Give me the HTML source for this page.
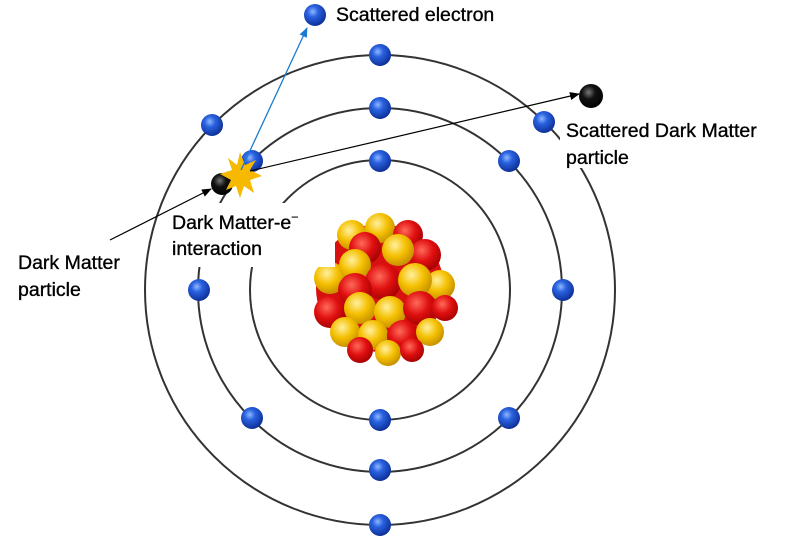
<!DOCTYPE html><html><head><style>body{margin:0;background:#fff}svg{display:block}text{font-family:"Liberation Sans",sans-serif;font-size:19.5px;fill:#000;stroke:#000;stroke-width:0.35}</style></head><body>
<svg width="800" height="547" viewBox="0 0 800 547">
<defs>
<radialGradient id="e" cx="0.4" cy="0.35" r="0.7"><stop offset="0" stop-color="#8fb8ff"/><stop offset="0.35" stop-color="#2a62e0"/><stop offset="1" stop-color="#0a2a90"/></radialGradient>
<radialGradient id="k" cx="0.4" cy="0.35" r="0.7"><stop offset="0" stop-color="#777"/><stop offset="0.4" stop-color="#111"/><stop offset="1" stop-color="#000"/></radialGradient>
<radialGradient id="r" cx="0.4" cy="0.35" r="0.7"><stop offset="0" stop-color="#ff6a5a"/><stop offset="0.5" stop-color="#e01010"/><stop offset="1" stop-color="#a00000"/></radialGradient>
<radialGradient id="y" cx="0.4" cy="0.35" r="0.7"><stop offset="0" stop-color="#fff0a0"/><stop offset="0.5" stop-color="#f5c000"/><stop offset="1" stop-color="#c08a00"/></radialGradient>
<marker id="ab" markerWidth="10" markerHeight="8" refX="9" refY="4" orient="auto" markerUnits="userSpaceOnUse"><path d="M0,0L10,4L0,8z" fill="#1a7ad0"/></marker>
<marker id="ak" markerWidth="10" markerHeight="8" refX="9" refY="4" orient="auto" markerUnits="userSpaceOnUse"><path d="M0,0L10,4L0,8z" fill="#000"/></marker>
</defs>
<g fill="none" stroke="#333" stroke-width="2">
<circle cx="380" cy="290" r="235"/>
<circle cx="380" cy="290" r="182"/><circle cx="380" cy="290" r="130"/>
</g>
<g>
<circle cx="380" cy="288" r="64" fill="#d81010"/>
<circle cx="352" cy="235" r="15" fill="url(#y)"/><circle cx="380" cy="228" r="15" fill="url(#y)"/><circle cx="408" cy="235" r="15" fill="url(#r)"/>
<circle cx="365" cy="248" r="16" fill="url(#r)"/><circle cx="425" cy="255" r="16" fill="url(#r)"/><circle cx="398" cy="250" r="16" fill="url(#y)"/>
<circle cx="330" cy="278" r="16" fill="url(#y)"/><circle cx="440" cy="285" r="15" fill="url(#y)"/><circle cx="355" cy="265" r="16" fill="url(#y)"/>
<circle cx="383" cy="282" r="18" fill="url(#r)"/><circle cx="355" cy="290" r="17" fill="url(#r)"/><circle cx="415" cy="280" r="17" fill="url(#y)"/>
<circle cx="330" cy="312" r="16" fill="url(#r)"/><circle cx="360" cy="308" r="16" fill="url(#y)"/><circle cx="390" cy="312" r="16" fill="url(#y)"/>
<circle cx="420" cy="308" r="17" fill="url(#r)"/><circle cx="445" cy="308" r="13" fill="url(#r)"/>
<circle cx="345" cy="332" r="15" fill="url(#y)"/><circle cx="373" cy="335" r="15" fill="url(#y)"/><circle cx="403" cy="336" r="16" fill="url(#r)"/><circle cx="430" cy="332" r="14" fill="url(#y)"/>
<circle cx="360" cy="350" r="13" fill="url(#r)"/><circle cx="388" cy="353" r="13" fill="url(#y)"/><circle cx="412" cy="350" r="12" fill="url(#r)"/>
</g>
<g fill="url(#e)">
<circle cx="380" cy="55" r="11"/><circle cx="212" cy="125" r="11"/><circle cx="544" cy="122" r="11"/><circle cx="380" cy="525" r="11"/>
<circle cx="380" cy="108" r="11"/><circle cx="252" cy="161" r="11"/><circle cx="509" cy="161" r="11"/><circle cx="199" cy="290" r="11"/><circle cx="563" cy="290" r="11"/><circle cx="252" cy="418" r="11"/><circle cx="509" cy="418" r="11"/><circle cx="380" cy="470" r="11"/>
<circle cx="380" cy="161" r="11"/><circle cx="380" cy="420" r="11"/>
<circle cx="315" cy="15" r="11"/>
</g>
<rect x="560" y="112" width="240" height="56" fill="#fff"/>
<rect x="168" y="203" width="167" height="64" fill="#fff"/>
<rect x="10" y="244" width="130" height="58" fill="#fff"/>
<circle cx="222" cy="184" r="11" fill="url(#k)"/>
<circle cx="591" cy="96" r="12" fill="url(#k)"/>
<polygon points="240,152 245,165 256,160 250,170 262,176 250,180 254,193 244,186 240,198 236,186 226,190 231,180 220,174 232,170 228,158 237,165" fill="#f7b800"/>
<line x1="241" y1="170" x2="307" y2="28" stroke="#1a7ad0" stroke-width="1.3" marker-end="url(#ab)"/>
<line x1="250" y1="171" x2="579" y2="94" stroke="#000" stroke-width="1.2" marker-end="url(#ak)"/>
<line x1="110" y1="240" x2="211" y2="189" stroke="#000" stroke-width="1.2" marker-end="url(#ak)"/>
<text x="336" y="21">Scattered electron</text>
<text x="566" y="137">Scattered Dark Matter</text><text x="566" y="164">particle</text>
<text x="172" y="229">Dark Matter-e<tspan font-size="12" dy="-8">−</tspan></text><text x="172" y="255">interaction</text>
<text x="18" y="269">Dark Matter</text><text x="18" y="296">particle</text>
</svg></body></html>
